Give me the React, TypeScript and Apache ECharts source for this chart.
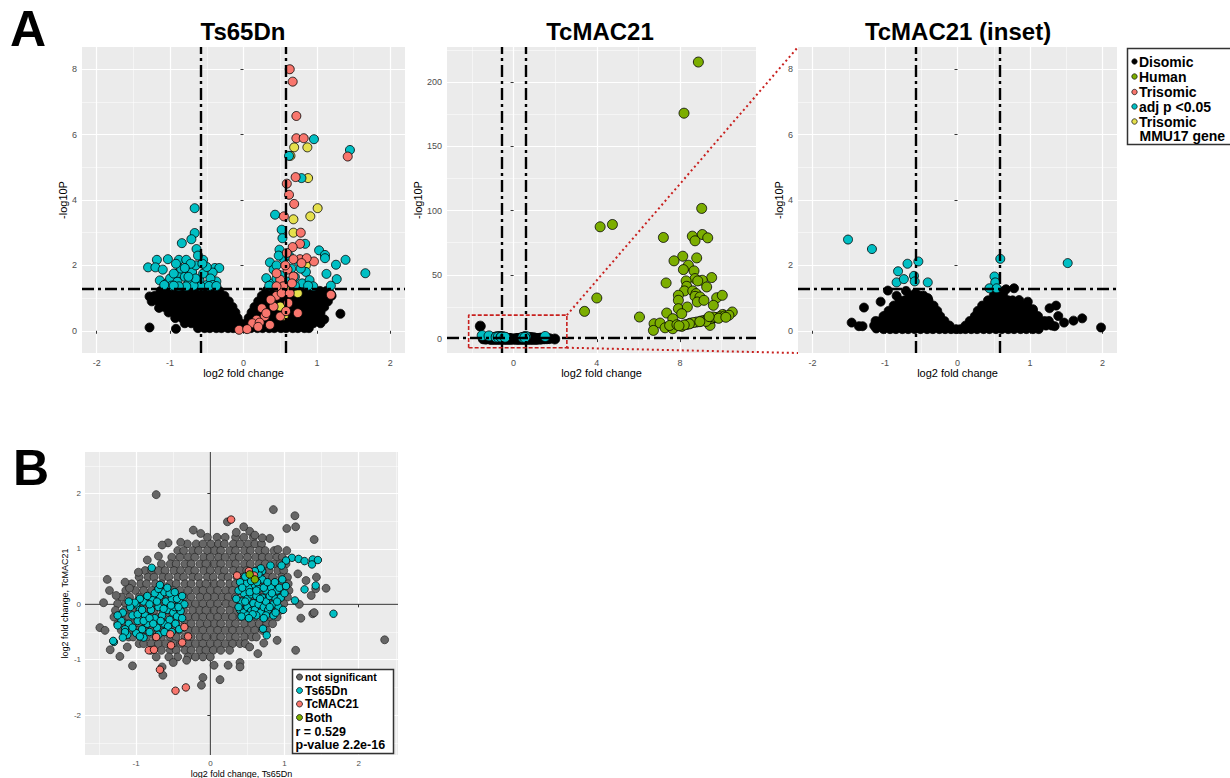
import React, { useEffect, useRef } from "react";
import * as echarts from "echarts";

const FONT = "'Liberation Sans', Arial, Helvetica, sans-serif";
const TEAL = "#00BFC4";
const SALMON = "#F8766D";
const GREEN = "#7CAE00";
const YELLOW = "#E5E04D";
const GREY = "#666666";

// thresholds
const FC_CUT = 0.585;
const P_CUT = 1.301;

// ---------- axes ----------
const tsXRange = [-2.2, 2.2];
const tsYRange = [-0.68, 8.68];
const tsXTicks = [-2, -1, 0, 1, 2];
const tsYTicks = [0, 2, 4, 6, 8];
const tcXRange = [-3.2, 11.65];
const tcYRange = [-10.8, 227.3];
const tcXTicks = [0, 4, 8];
const tcYTicks = [0, 50, 100, 150, 200];
const bXRange = [-1.69, 2.53];
const bYRange = [-2.72, 2.75];
const bXTicks = [-1, 0, 1, 2];
const bYTicks = [-2, -1, 0, 1, 2];

// inset box drawn in TcMAC21 panel (data units)
const insetBoxX = [-2.16, 2.56];
const insetBoxY = [-6.7, 18.7];

// ---------- Panel A: Ts65Dn ----------
const tsDisomicRows: [number, number[]][] = [
  [1.22, [-1.13, -1.05, -0.97, -0.88, -0.81, -0.72, -0.65, -0.56, -0.49, -0.41, -0.33, 0.31, 0.39, 0.47, 0.56, 0.63, 0.72, 0.79, 0.88, 0.95, 1.04, 1.13]],
  [1.07, [-1.21, -1.11, -1.03, -0.94, -0.87, -0.78, -0.71, -0.62, -0.55, -0.46, -0.39, -0.32, -0.26, 0.25, 0.31, 0.4, 0.47, 0.56, 0.64, 0.71, 0.8, 0.87, 0.96, 1.03, 1.12, 1.2]],
  [0.9, [-1.16, -1.07, -0.98, -0.91, -0.82, -0.75, -0.66, -0.59, -0.5, -0.43, -0.34, -0.27, -0.2, 0.2, 0.27, 0.35, 0.44, 0.51, 0.6, 0.67, 0.76, 0.83, 0.92, 0.99, 1.08, 1.15]],
  [0.73, [-1.08, -1.01, -0.92, -0.85, -0.76, -0.69, -0.6, -0.53, -0.44, -0.37, -0.28, -0.21, -0.15, 0.15, 0.22, 0.3, 0.39, 0.46, 0.55, 0.62, 0.71, 0.78, 0.87, 0.94, 1.03, 1.1]],
  [0.56, [-1.02, -0.93, -0.86, -0.77, -0.7, -0.61, -0.54, -0.45, -0.38, -0.29, -0.22, -0.16, -0.11, 0.11, 0.17, 0.25, 0.34, 0.41, 0.5, 0.57, 0.66, 0.73, 0.82, 0.89, 0.98, 1.05]],
  [0.39, [-0.93, -0.84, -0.77, -0.68, -0.61, -0.52, -0.45, -0.36, -0.29, -0.2, -0.12, -0.08, 0.07, 0.12, 0.2, 0.29, 0.36, 0.45, 0.52, 0.61, 0.68, 0.77, 0.84, 0.93, 1.0]],
  [0.23, [-0.8, -0.71, -0.64, -0.55, -0.48, -0.39, -0.32, -0.23, -0.16, -0.08, -0.04, 0.04, 0.08, 0.15, 0.24, 0.31, 0.4, 0.47, 0.56, 0.63, 0.72, 0.79, 0.88, 0.95, 1.05]],
  [0.08, [-0.62, -0.53, -0.46, -0.37, -0.3, -0.21, -0.14, -0.05, 0.03, 0.1, 0.19, 0.26, 0.35, 0.42, 0.51, 0.58, 0.67, 0.74, 0.83, 0.89]],
];
const tsDisomicExtra: number[][] = [
  [-1.28, 1.05], [-1.28, 0.1], [-0.92, 0.06], [1.32, 0.52], [1.19, 1.12], [-1.25, 0.9], [1.1, 0.35], [-1.15, 0.7],
];
const tsMMU17: number[][] = [
  [0.69, 5.61], [0.87, 5.61], [0.64, 5.35], [0.88, 4.67], [1.01, 3.75], [0.91, 3.5], [0.68, 3.41], [0.68, 3.0],
  [0.38, 0.95], [0.5, 0.74], [0.55, 0.46], [0.74, 1.15], [0.85, 2.0], [0.57, 1.25],
];
const tsAdjP: number[][] = [
  [-0.665, 3.75], [-0.665, 2.99], [-0.71, 2.8], [-0.84, 2.68], [-0.64, 2.5], [-1.18, 2.17], [-1.03, 2.19], [-1.3, 1.94],
  [-1.2, 1.94], [-1.1, 1.87], [-1.14, 1.54], [-1.04, 1.46], [-0.88, 2.17], [-0.78, 2.17], [-0.55, 2.17], [-0.39, 1.92],
  [-0.33, 1.92], [-0.42, 1.78], [-0.37, 1.51], [-0.89, 1.76], [-1.0, 1.6], [-0.95, 1.75], [-0.9, 1.5], [-0.85, 1.9],
  [-0.8, 1.65], [-0.75, 1.45], [-0.7, 1.8], [-0.65, 2.0], [-0.6, 1.55], [-0.55, 1.75], [-0.5, 1.4], [-0.5, 1.95],
  [-0.45, 1.6], [-0.58, 1.36], [-0.68, 1.38], [-0.78, 1.36], [-0.88, 1.36], [-0.98, 1.38], [-0.42, 1.4], [-0.72, 2.05],
  [-0.62, 2.3], [-0.8, 1.92], [-0.92, 2.05], [-0.56, 2.05], [-0.95, 1.38], [-1.08, 1.4], [-0.47, 1.37], [-0.37, 1.37],
  [-0.65, 1.6], [-0.75, 1.65],
  [1.45, 5.53], [0.96, 5.86], [0.62, 5.35], [0.79, 4.67], [0.43, 3.55], [0.52, 3.09], [0.53, 2.83], [0.84, 2.66],
  [1.03, 2.46], [1.11, 2.32], [1.11, 2.22], [1.39, 2.17], [1.26, 2.02], [1.66, 1.76], [1.13, 1.74], [1.27, 1.58],
  [1.19, 1.38], [0.49, 2.48], [0.36, 2.09], [0.31, 1.61], [0.41, 1.87], [0.45, 2.0], [0.5, 1.7], [0.55, 2.2],
  [0.6, 1.5], [0.65, 1.9], [0.7, 1.65], [0.75, 2.1], [0.8, 1.45], [0.85, 1.8], [0.9, 1.55], [0.4, 1.45],
  [0.55, 1.4], [0.7, 1.38], [0.95, 1.36], [0.62, 2.3], [0.48, 2.3], [0.35, 1.38], [0.45, 1.6], [0.88, 1.38], [0.78, 1.9],
];
const tsTrisomic: number[][] = [
  [0.63, 8.0], [0.67, 7.62], [0.72, 6.57], [0.72, 5.89], [0.82, 5.89], [1.42, 5.33], [0.71, 4.7], [0.59, 4.5],
  [0.62, 4.16], [0.69, 3.88], [0.55, 3.5], [0.78, 3.0], [0.77, 2.66], [0.67, 2.56], [0.77, 2.19], [0.68, 2.19],
  [0.96, 2.12], [0.6, 1.87], [0.5, 1.56], [0.54, 1.36], [1.19, 1.1], [0.45, 1.07], [0.52, 1.15], [0.41, 0.74],
  [0.25, 0.69], [0.29, 0.44], [0.18, 0.34], [0.12, 0.23], [0.36, 0.18], [-0.06, 0.03], [0.05, 0.05], [0.22, 0.25],
  [0.61, 0.85], [0.74, 0.54], [0.63, 1.15], [0.45, 1.36], [0.31, 0.54], [0.5, 0.44], [0.86, 2.22], [0.59, 2.38],
  [0.79, 2.07], [0.45, 1.76], [0.68, 1.66], [0.57, 2.0], [0.66, 1.45], [0.37, 0.95], [0.58, 0.6], [0.2, 0.12],
];

// ---------- Panel A: TcMAC21 (and inset) ----------
const tcDisomicRows: [number, number[]][] = [
  [1.08, [-0.66, -0.59, -0.53, -0.47, 0.5, 0.57, 0.63]],
  [0.93, [-0.8, -0.73, -0.66, -0.6, -0.52, -0.45, -0.4, 0.42, 0.49, 0.56, 0.63, 0.7, 0.76]],
  [0.77, [-0.88, -0.81, -0.75, -0.67, -0.6, -0.54, -0.46, -0.39, -0.33, 0.34, 0.41, 0.48, 0.55, 0.62, 0.69, 0.76, 0.83, 0.9, 0.96]],
  [0.61, [-0.95, -0.88, -0.82, -0.74, -0.67, -0.61, -0.53, -0.46, -0.4, -0.32, -0.28, 0.28, 0.34, 0.41, 0.49, 0.55, 0.62, 0.7, 0.76, 0.83, 0.91, 0.97, 1.04]],
  [0.45, [-1.02, -0.95, -0.89, -0.81, -0.74, -0.68, -0.6, -0.53, -0.47, -0.39, -0.32, -0.24, 0.24, 0.3, 0.36, 0.42, 0.48, 0.55, 0.63, 0.69, 0.76, 0.84, 0.9, 0.97, 1.05, 1.11]],
  [0.3, [-1.13, -1.06, -0.99, -0.93, -0.85, -0.78, -0.72, -0.64, -0.57, -0.51, -0.43, -0.36, -0.3, -0.24, -0.18, 0.17, 0.23, 0.28, 0.36, 0.42, 0.49, 0.57, 0.63, 0.7, 0.78, 0.84, 0.91, 0.99, 1.05, 1.12, 1.2, 1.26]],
  [0.16, [-1.15, -1.08, -1.01, -0.95, -0.87, -0.8, -0.74, -0.66, -0.59, -0.53, -0.45, -0.38, -0.32, -0.24, -0.17, -0.11, 0.11, 0.17, 0.24, 0.3, 0.38, 0.45, 0.51, 0.59, 0.66, 0.72, 0.8, 0.87, 0.93, 1.01, 1.08, 1.14, 1.22, 1.3]],
  [0.05, [-1.02, -0.93, -0.85, -0.76, -0.68, -0.59, -0.51, -0.42, -0.34, -0.25, -0.17, -0.09, -0.02, 0.04, 0.11, 0.19, 0.27, 0.36, 0.44, 0.53, 0.61, 0.7, 0.78, 0.87, 0.95, 1.04, 1.12]],
];
const tcDisomicExtra: number[][] = [
  [-1.46, 0.25], [-1.36, 0.14], [-1.31, 0.14], [-1.29, 0.71], [-1.12, 0.07], [-1.11, 0.28], [-1.06, 0.89], [-1.0, 0.45],
  [-0.96, 1.23], [-0.84, 1.07], [-0.71, 1.22], [-0.41, 1.0], [-0.46, 0.95], [0.78, 1.3], [0.67, 1.27], [0.85, 0.94],
  [0.97, 0.89], [0.85, 0.69], [0.73, 0.71], [1.04, 0.66], [1.27, 0.69], [1.36, 0.77], [1.39, 0.45], [1.47, 0.25],
  [1.6, 0.31], [1.72, 0.38], [1.98, 0.1], [1.34, 0.14], [0.55, 1.18], [0.6, 1.2], [-0.58, 1.15], [-1.6, 10.1],
];
const tcAdjP: number[][] = [
  [-1.51, 2.79], [-1.18, 2.5], [-0.69, 2.05], [-0.54, 2.12], [-0.82, 1.82], [-0.84, 1.48], [-0.74, 1.58], [-0.6, 1.68],
  [-0.59, 1.51], [-0.41, 1.48], [0.59, 2.2], [1.52, 2.07], [0.51, 1.66], [0.52, 1.48], [0.44, 1.3], [0.54, 1.3],
];
const tcHuman: number[][] = [
  [8.88, 215.6], [8.19, 175.8], [9.04, 101.7], [4.16, 87.4], [4.75, 89.2], [7.2, 79.1], [8.59, 80.1], [9.07, 81.4],
  [9.33, 78.8], [8.72, 76.5], [8.8, 63.2], [8.13, 64.5], [7.71, 60.9], [8.4, 57.5], [8.16, 54.1], [8.67, 53.1],
  [8.72, 47.1], [9.52, 47.9], [9.07, 45.8], [8.85, 45.3], [8.29, 45.3], [8.32, 41.1], [8.21, 37.5], [8.61, 37.5],
  [8.77, 35.4], [9.28, 40.6], [7.33, 43.7], [7.92, 34.1], [8.72, 33.3], [8.96, 32.8], [7.92, 30.2], [8.83, 28.9],
  [9.15, 30.2], [9.76, 32.2], [10.03, 34.1], [9.6, 26.3], [7.92, 23.7], [8.35, 25.0], [7.36, 20.3], [7.65, 15.9],
  [8.08, 19.8], [10.51, 21.1], [10.05, 19.2], [4.0, 32.0], [3.41, 21.6], [6.05, 17.2], [6.75, 12.0], [6.72, 6.8],
  [7.04, 12.5], [7.28, 8.8], [7.65, 8.1], [8.08, 9.9], [8.32, 11.4], [8.8, 13.3], [9.44, 10.7], [7.5, 10.6],
  [7.85, 11.2], [8.5, 12.4], [8.65, 12.9], [9.0, 14.0], [9.15, 14.6], [9.3, 15.3], [9.5, 16.0], [9.7, 16.8],
  [9.9, 17.4], [10.15, 18.0], [10.35, 18.6], [9.6, 17.2], [9.85, 16.2], [9.25, 13.8], [8.95, 13.6], [8.45, 11.9],
  [8.2, 11.0], [7.95, 10.4], [10.2, 17.0], [9.4, 17.5],
];

// ---------- Panel B ----------
const bGreyRows: [number, number[]][] = [
  [1.21, [-0.04, 0.09, 0.2, 0.34, 0.45, 0.58]],
  [1.09, [-0.31, -0.19, -0.1, 0.01, 0.11, 0.19, 0.31, 0.4, 0.51, 0.6, 0.69]],
  [0.97, [-0.44, -0.36, -0.24, -0.16, -0.04, 0.06, 0.14, 0.26, 0.34, 0.46, 0.54, 0.66, 0.74, 0.86]],
  [0.85, [-0.52, -0.41, -0.3, -0.21, -0.09, 0.0, 0.11, 0.2, 0.31, 0.39, 0.5, 0.61, 0.7, 0.79, 0.9, 0.97]],
  [0.73, [-0.66, -0.54, -0.46, -0.34, -0.26, -0.14, -0.06, 0.06, 0.14, 0.26, 0.34, 0.46, 0.54, 0.66, 0.74, 0.86, 0.94, 1.02]],
  [0.61, [-0.88, -0.79, -0.7, -0.61, -0.49, -0.4, -0.29, -0.21, -0.09, 0.0, 0.11, 0.19, 0.31, 0.4, 0.49, 0.61, 0.7, 0.79, 0.91, 0.99]],
  [0.49, [-0.96, -0.84, -0.76, -0.64, -0.56, -0.44, -0.36, -0.24, -0.16, -0.04, 0.04, 0.16, 0.24, 0.36, 0.44, 0.56, 0.64, 0.76, 0.84, 0.96, 1.04]],
  [0.37, [-1.06, -0.94, -0.86, -0.74, -0.66, -0.54, -0.46, -0.34, -0.26, -0.14, -0.06, 0.06, 0.14, 0.26, 0.34, 0.46, 0.54, 0.66, 0.74, 0.86, 0.94, 1.05]],
  [0.25, [-1.14, -1.01, -0.9, -0.79, -0.71, -0.6, -0.5, -0.41, -0.3, -0.19, -0.1, 0.0, 0.1, 0.21, 0.3, 0.4, 0.5, 0.6, 0.71, 0.8, 0.9, 1.0, 1.06]],
  [0.13, [-1.2, -1.09, -0.96, -0.86, -0.74, -0.64, -0.56, -0.44, -0.36, -0.26, -0.14, -0.04, 0.06, 0.16, 0.24, 0.34, 0.46, 0.56, 0.64, 0.76, 0.86, 0.96, 1.04]],
  [0.01, [-1.25, -1.14, -1.01, -0.9, -0.79, -0.7, -0.6, -0.49, -0.41, -0.3, -0.2, -0.1, 0.0, 0.1, 0.21, 0.3, 0.41, 0.5, 0.6, 0.69, 0.8, 0.9, 0.99]],
  [-0.11, [-1.28, -1.16, -1.06, -0.94, -0.84, -0.76, -0.64, -0.54, -0.46, -0.36, -0.24, -0.14, -0.06, 0.06, 0.14, 0.26, 0.36, 0.44, 0.56, 0.64, 0.76, 0.86, 0.94]],
  [-0.23, [-1.3, -1.19, -1.1, -0.99, -0.9, -0.8, -0.7, -0.6, -0.5, -0.4, -0.3, -0.2, -0.1, 0.0, 0.1, 0.2, 0.3, 0.4, 0.5, 0.6, 0.7, 0.8, 0.9]],
  [-0.35, [-1.25, -1.14, -1.04, -0.96, -0.86, -0.74, -0.66, -0.54, -0.46, -0.34, -0.26, -0.14, -0.04, 0.06, 0.14, 0.26, 0.34, 0.46, 0.56, 0.66, 0.76, 0.84]],
  [-0.47, [-1.2, -1.1, -0.99, -0.9, -0.8, -0.7, -0.6, -0.5, -0.41, -0.3, -0.2, -0.1, 0.0, 0.1, 0.2, 0.3, 0.4, 0.5, 0.6, 0.7, 0.76]],
  [-0.59, [-1.1, -1.04, -0.94, -0.86, -0.74, -0.66, -0.54, -0.46, -0.34, -0.26, -0.14, -0.06, 0.06, 0.14, 0.26, 0.34, 0.46, 0.56, 0.62]],
  [-0.71, [-0.96, -0.9, -0.8, -0.7, -0.6, -0.5, -0.4, -0.3, -0.2, -0.1, 0.0, 0.1, 0.2, 0.3, 0.4, 0.47]],
  [-0.83, [-0.8, -0.66, -0.54, -0.46, -0.34, -0.26, -0.14, -0.06, 0.04, 0.14, 0.26]],
  [-0.95, [-0.56, -0.44, -0.3, -0.2, -0.1, 0.0]],
];
const bGreyExtra: number[][] = [
  [-0.73, 1.98], [0.85, 1.71], [1.14, 1.6], [1.15, 1.4], [1.03, 1.37], [0.23, 1.49], [-0.23, 1.34], [-0.13, 1.28],
  [-0.57, 1.11], [-0.65, 1.07], [-0.7, 0.87], [-0.97, 0.58], [-1.39, 0.45], [-1.36, 0.25], [-1.49, -0.42], [-1.42, -0.47],
  [-1.35, -0.82], [-1.22, -0.94], [-1.05, -1.11], [-0.73, -0.95], [-0.64, -1.28], [-0.65, -1.13], [-0.32, -1.01], [-0.1, -1.32],
  [-0.12, -1.46], [0.13, -1.36], [0.24, -1.1], [0.4, -1.05], [0.4, -1.13], [0.53, -0.77], [0.64, -0.89], [1.15, -0.83],
  [1.42, 0.28], [1.56, 0.29], [1.43, 0.49], [1.36, 0.16], [1.38, -0.17], [1.4, -0.15], [2.35, -0.64], [1.29, 0.43],
  [1.18, 0.55], [1.4, 1.17], [1.03, 0.97], [0.91, 0.99], [0.8, 1.19], [-1.12, -0.77], [-1.44, 0.03], [-1.27, 0.16],
  [-1.09, 0.29], [-0.85, 0.8], [0.7, 1.2], [0.35, 1.3], [1.22, -0.25], [1.2, 0.0], [-1.15, 0.4], [-0.5, -1.05],
  [0.05, -1.1], [0.72, -0.7], [0.9, -0.65], [0.53, 1.32], [0.45, 1.4], [0.6, 1.25], [-0.4, 1.12],
];
const bTs65Dn: number[][] = [
  [-1.0, 0.0], [-0.95, -0.1], [-0.9, 0.05], [-0.88, -0.2], [-0.85, -0.35], [-0.8, -0.1], [-0.78, 0.08], [-0.75, -0.25],
  [-0.72, -0.42], [-0.7, -0.05], [-0.68, 0.15], [-0.65, -0.2], [-0.62, -0.35], [-0.6, 0.05], [-0.58, -0.1], [-0.55, -0.28],
  [-0.52, 0.1], [-0.5, -0.15], [-0.48, -0.05], [-0.45, -0.22], [-0.42, 0.05], [-0.4, -0.12], [-0.38, -0.25], [-0.35, 0.0],
  [-0.92, -0.45], [-0.98, -0.3], [-1.05, -0.2], [-1.1, -0.35], [-1.15, -0.45], [-1.2, -0.3], [-1.12, -0.55], [-1.0, -0.52],
  [-0.9, -0.6], [-0.82, -0.5], [-0.7, -0.55], [-0.85, 0.15], [-0.62, 0.22], [-0.75, 0.2], [-0.55, 0.2], [-0.45, 0.1],
  [-1.3, -0.68], [-0.79, 0.66], [-0.7, 0.28], [-1.25, -0.38], [-0.95, 0.1], [-1.02, 0.03], [-1.31, -0.66], [-1.15, -0.5],
  [-1.18, -0.15], [-1.08, -0.05], [-0.98, -0.18], [-0.9, -0.3], [-0.82, -0.25], [-0.77, -0.35], [-0.67, -0.3], [-0.57, -0.4],
  [-0.47, -0.35], [-0.42, -0.45], [-0.52, -0.5], [-0.62, -0.5], [-1.05, -0.42], [-0.95, -0.58], [-1.18, -0.6], [-0.72, 0.05],
  [-0.82, 0.0], [-0.92, -0.1], [-0.63, -0.08], [-0.53, -0.02], [-0.43, -0.05], [-0.38, 0.15], [-0.48, 0.22], [-0.58, 0.3],
  [-0.68, 0.35], [-1.1, 0.05], [-1.25, -0.2],
  [0.4, -0.1], [0.42, 0.05], [0.45, 0.2], [0.45, -0.15], [0.5, 0.1], [0.5, -0.05], [0.52, 0.3], [0.55, -0.12],
  [0.55, 0.18], [0.58, 0.02], [0.6, 0.35], [0.6, -0.1], [0.62, 0.15], [0.65, 0.0], [0.65, 0.28], [0.68, -0.15],
  [0.7, 0.12], [0.7, 0.45], [0.72, -0.05], [0.75, 0.25], [0.75, 0.05], [0.78, -0.1], [0.8, 0.15], [0.82, 0.3],
  [0.85, 0.0], [0.85, -0.2], [0.88, 0.1], [0.9, 0.25], [0.92, -0.05], [0.48, 0.38], [0.58, 0.5], [0.7, 0.6],
  [0.38, 0.25], [0.4, 0.4], [0.62, -0.2], [0.5, -0.2], [0.75, -0.2], [0.95, 0.12], [0.65, 0.55], [0.55, 0.42],
  [0.35, 0.1], [0.38, -0.05], [0.43, 0.3], [0.47, 0.5], [0.53, 0.22], [0.57, -0.18], [0.63, 0.4], [0.67, 0.1],
  [0.72, 0.3], [0.77, 0.4], [0.8, -0.05], [0.83, 0.2], [0.87, 0.4], [0.9, 0.05], [0.93, 0.3], [0.97, 0.45],
  [1.0, 0.2], [0.98, -0.1], [0.68, 0.65], [0.6, 0.6], [0.52, -0.25], [0.42, -0.22], [0.72, -0.25], [0.88, -0.15],
  [0.62, 0.25], [0.47, 0.05],
  [1.1, 0.84], [1.19, 0.82], [1.27, 0.78], [1.38, 0.81], [1.45, 0.8], [1.37, 0.72], [1.27, 0.27], [1.42, 0.34],
  [1.14, 0.07], [1.02, 0.33], [1.66, -0.17], [1.02, 0.79], [0.81, 0.7], [0.96, 0.7], [0.71, -0.44], [0.76, -0.56],
];
const bTcMAC21: number[][] = [
  [0.28, 1.53], [0.52, 0.6], [0.36, 0.52], [0.59, 0.52], [-0.73, -0.59], [-0.54, -0.54], [-0.35, -0.41], [-0.3, -0.58],
  [-0.38, -0.69], [-0.53, -0.74], [-0.83, -0.83], [-0.76, -0.82], [-0.68, -1.18], [-0.47, -1.56], [-0.33, -1.5],
];
const bBoth: number[][] = [
  [0.53, 0.54], [0.6, 0.45],
];
const bStats = ["r = 0.529", "p-value 2.2e-16"];

// ---------- helpers ----------
const rowsToPoints = (rows: [number, number[]][]) => {
  const out: number[][] = [];
  rows.forEach(([y, xs]) => xs.forEach((x) => out.push([x, y])));
  return out;
};

const mkAxis = (gridIndex: number, range: number[], step: number, ticks: number[], name: string, nameGap: number, fs: number, nfs: number, margin: number) => ({
  type: "value",
  gridIndex,
  min: range[0],
  max: range[1],
  minInterval: step,
  maxInterval: step,
  splitNumber: Math.max(1, Math.round((range[1] - range[0]) / step)),
  name,
  nameLocation: "middle",
  nameGap,
  nameTextStyle: { fontSize: nfs, color: "#000", fontFamily: FONT },
  axisLine: { show: false },
  axisTick: { show: true, length: 3, lineStyle: { color: "#333", width: 1 }, customValues: ticks },
  axisLabel: { show: true, fontSize: fs, color: "#4D4D4D", margin, fontFamily: FONT, customValues: ticks },
  splitLine: { show: true, lineStyle: { color: "#FFFFFF", width: 1.2 } },
  minorTick: { show: false, splitNumber: 2 },
  minorSplitLine: { show: true, lineStyle: { color: "#FFFFFF", width: 0.5 } },
});

const sc = (name: string, gi: number, data: number[][], color: string, size: number, extra: any = {}) => ({
  type: "scatter",
  name,
  xAxisIndex: gi,
  yAxisIndex: gi,
  data,
  symbol: "circle",
  symbolSize: size,
  itemStyle: { color, borderColor: "#000", borderWidth: 0.8, opacity: 1 },
  silent: true,
  progressive: 0,
  animation: false,
  clip: true,
  ...extra,
});

const thresholdLines = {
  silent: true,
  symbol: ["none", "none"],
  label: { show: false },
  animation: false,
  lineStyle: { color: "#000", width: 2.4, type: [12, 4, 3, 4], opacity: 1 },
  data: [{ xAxis: -FC_CUT }, { xAxis: FC_CUT }, { yAxis: P_CUT }],
};

const gridBase = { show: true, backgroundColor: "#EBEBEB", borderWidth: 0, containLabel: false, outerBoundsMode: "none" };

const txt = (text: string, x: number, y: number, fontSize: number, align = "left", bold = true) => ({
  type: "text",
  x,
  y,
  silent: true,
  style: {
    text,
    fontSize,
    fontWeight: bold ? "bold" : "normal",
    fontFamily: FONT,
    fill: "#000",
    textAlign: align,
    align,
    textVerticalAlign: "middle",
    verticalAlign: "middle",
  },
});
const dot = (cx: number, cy: number, r: number, fill: string) => ({
  type: "circle",
  silent: true,
  shape: { cx, cy, r },
  style: { fill, stroke: "#000", lineWidth: 0.7 },
});

function buildOption() {
  const tsDisomic = rowsToPoints(tsDisomicRows).concat(tsDisomicExtra);
  const tcDisomic = rowsToPoints(tcDisomicRows).concat(tcDisomicExtra);
  const bGrey = rowsToPoints(bGreyRows).concat(bGreyExtra);
  const boxData = [
    [insetBoxX[0], insetBoxY[0]],
    [insetBoxX[1], insetBoxY[0]],
    [insetBoxX[1], insetBoxY[1]],
    [insetBoxX[0], insetBoxY[1]],
    [insetBoxX[0], insetBoxY[0]],
  ];
  return {
    animation: false,
    backgroundColor: "#FFFFFF",
    textStyle: { fontFamily: FONT },
    grid: [
      { ...gridBase, left: 82, top: 47, width: 323, height: 306 },
      { ...gridBase, left: 447, top: 47, width: 309, height: 306 },
      { ...gridBase, left: 798, top: 47, width: 319, height: 306 },
      { ...gridBase, left: 85, top: 452, width: 313, height: 303 },
    ],
    xAxis: [
      mkAxis(0, tsXRange, 1, tsXTicks, "log2 fold change", 13, 9, 11, 5),
      mkAxis(1, tcXRange, 4, tcXTicks, "log2 fold change", 13, 9, 11, 5),
      mkAxis(2, tsXRange, 1, tsXTicks, "log2 fold change", 13, 9, 11, 5),
      mkAxis(3, bXRange, 1, bXTicks, "log2 fold change, Ts65Dn", 14, 8, 9, 4),
    ],
    yAxis: [
      mkAxis(0, tsYRange, 2, tsYTicks, "-log10P", 13, 9, 11, 5),
      mkAxis(1, tcYRange, 50, tcYTicks, "-log10P", 19, 9, 11, 5),
      mkAxis(2, tsYRange, 2, tsYTicks, "-log10P", 12, 9, 11, 5),
      mkAxis(3, bYRange, 1, bYTicks, "log2 fold change, TcMAC21", 12, 8, 9, 4),
    ],
    series: [
      // A1 Ts65Dn
      sc("Disomic", 0, tsDisomic, "#000000", 9),
      sc("Trisomic MMU17 gene", 0, tsMMU17, YELLOW, 9),
      sc("adj p <0.05", 0, tsAdjP, TEAL, 9),
      sc("Trisomic", 0, tsTrisomic, SALMON, 9, { markLine: thresholdLines }),
      // A2 TcMAC21
      sc("Disomic", 1, tcDisomic, "#000000", 10),
      sc("adj p <0.05", 1, tcAdjP, TEAL, 10),
      sc("Human", 1, tcHuman, GREEN, 10, { markLine: thresholdLines }),
      {
        type: "line",
        name: "inset box",
        xAxisIndex: 1,
        yAxisIndex: 1,
        data: boxData,
        showSymbol: false,
        symbol: "none",
        silent: true,
        animation: false,
        clip: false,
        lineStyle: { color: "#C8201E", width: 1.6, type: [4, 2] },
        z: 5,
      },
      // A3 inset
      sc("Disomic", 2, tcDisomic, "#000000", 9),
      sc("adj p <0.05", 2, tcAdjP, TEAL, 9, { markLine: thresholdLines }),
      // B
      {
        type: "line",
        name: "zero x",
        xAxisIndex: 3,
        yAxisIndex: 3,
        data: [[0, bYRange[0]], [0, bYRange[1]]],
        symbol: "none",
        silent: true,
        animation: false,
        lineStyle: { color: "#333", width: 1 },
        z: 1,
      },
      {
        type: "line",
        name: "zero y",
        xAxisIndex: 3,
        yAxisIndex: 3,
        data: [[bXRange[0], 0], [bXRange[1], 0]],
        symbol: "none",
        silent: true,
        animation: false,
        lineStyle: { color: "#333", width: 1 },
        z: 1,
      },
      sc("not significant", 3, bGrey, GREY, 8, { itemStyle: { color: GREY, borderColor: "#1A1A1A", borderWidth: 0.6, opacity: 1 } }),
      sc("Ts65Dn", 3, bTs65Dn, TEAL, 7.5),
      sc("TcMAC21", 3, bTcMAC21, SALMON, 7.5),
      sc("Both", 3, bBoth, GREEN, 7.5),
    ],
  };
}

export default function App() {
  const ref = useRef<HTMLDivElement>(null);
  useEffect(() => {
    if (!ref.current) return;
    const chart = echarts.init(ref.current, undefined, { renderer: "svg" });
    chart.setOption(buildOption() as any);

    const p1 = chart.convertToPixel({ gridIndex: 1 } as any, [insetBoxX[1], insetBoxY[1]]) as number[];
    const p2 = chart.convertToPixel({ gridIndex: 2 } as any, [tsXRange[0], tsYRange[1]]) as number[];
    const p3 = chart.convertToPixel({ gridIndex: 1 } as any, [insetBoxX[1], insetBoxY[0]]) as number[];
    const p4 = chart.convertToPixel({ gridIndex: 2 } as any, [tsXRange[0], tsYRange[0]]) as number[];
    const connector = (a: number[], b: number[]) => ({
      type: "line",
      silent: true,
      z: 10,
      shape: { x1: a[0], y1: a[1], x2: b[0], y2: b[1] },
      style: { stroke: "#C8201E", lineWidth: 2, lineDash: [2, 3] },
    });

    const legendA = [
      { label: "Disomic", color: "#000000", y: 61.5 },
      { label: "Human", color: GREEN, y: 76.5 },
      { label: "Trisomic", color: SALMON, y: 92 },
      { label: "adj p <0.05", color: TEAL, y: 106.5 },
      { label: "Trisomic", color: YELLOW, y: 121.5 },
    ];
    const legendB = [
      { label: "not significant", color: GREY, y: 677, fs: 10.5 },
      { label: "Ts65Dn", color: TEAL, y: 690.5, fs: 12 },
      { label: "TcMAC21", color: SALMON, y: 704, fs: 12 },
      { label: "Both", color: GREEN, y: 717.5, fs: 12 },
    ];

    const elements: any[] = [
      txt("A", 10, 29, 50),
      txt("B", 13, 468, 50),
      txt("Ts65Dn", 243, 31, 24, "center"),
      txt("TcMAC21", 600, 31, 24, "center"),
      txt("TcMAC21 (inset)", 958, 31, 24, "center"),
      connector(p1, p2),
      connector(p3, p4),
      {
        type: "rect",
        silent: true,
        shape: { x: 1127.5, y: 48.5, width: 120, height: 96 },
        style: { fill: "#FFFFFF", stroke: "#333", lineWidth: 1.5 },
      },
      ...legendA.flatMap((it) => [dot(1134.5, it.y, 2.7, it.color), txt(it.label, 1139, it.y, 14)]),
      txt("MMU17 gene", 1139.5, 135.5, 14),
      {
        type: "rect",
        silent: true,
        z: 10,
        shape: { x: 292.5, y: 669.5, width: 101, height: 84 },
        style: { fill: "#FFFFFF", stroke: "#333", lineWidth: 1.5 },
      },
      ...legendB.flatMap((it) => [
        { ...dot(299.5, it.y, 3, it.color), z: 11 },
        { ...txt(it.label, 305, it.y, it.fs), z: 11 },
      ]),
      { ...txt(bStats[0], 295.5, 731.5, 12.5), z: 11 },
      { ...txt(bStats[1], 295.5, 744.5, 12.5), z: 11 },
    ];
    chart.setOption({ graphic: { elements } } as any);

    return () => chart.dispose();
  }, []);
  return <div ref={ref} style={{ position: "absolute", left: 0, top: 0, width: 1230, height: 778 }} />;
}
